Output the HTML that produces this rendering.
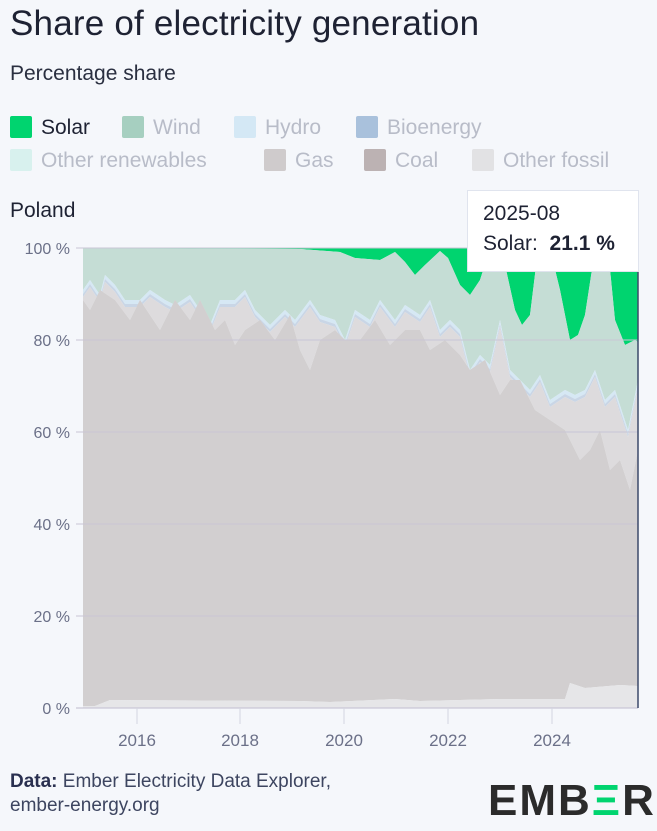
<!DOCTYPE html>
<html><head><meta charset="utf-8"><style>
body{margin:0;width:657px;height:831px;background:#f5f7fb;font-family:"Liberation Sans",sans-serif;color:#1e2233;position:relative;overflow:hidden}
.a{position:absolute;white-space:nowrap}
.sq{display:inline-block;width:22px;height:22px;vertical-align:-4px;margin-right:9px;border-radius:2px}
.lg{font-size:21px;color:#b8bcc8}
</style></head><body>
<div class="a" style="left:10px;top:4px;font-size:35px;font-weight:500;letter-spacing:0.2px">Share of electricity generation</div>
<div class="a" style="left:10px;top:62px;font-size:21px;color:#2a2f40">Percentage share</div>
<div class="a lg" style="left:10px;top:116px"><span class="sq" style="background:#00d46f"></span><span style="color:#1e2233">Solar</span></div>
<div class="a lg" style="left:122px;top:116px"><span class="sq" style="background:#a6cfc0"></span>Wind</div>
<div class="a lg" style="left:234px;top:116px"><span class="sq" style="background:#d4e8f5"></span>Hydro</div>
<div class="a lg" style="left:356px;top:116px"><span class="sq" style="background:#a9c1dc"></span>Bioenergy</div>
<div class="a lg" style="left:10px;top:149px"><span class="sq" style="background:#d8f1ee"></span>Other renewables</div>
<div class="a lg" style="left:264px;top:149px"><span class="sq" style="background:#cfcbcc"></span>Gas</div>
<div class="a lg" style="left:364px;top:149px"><span class="sq" style="background:#bcb2b3"></span>Coal</div>
<div class="a lg" style="left:472px;top:149px"><span class="sq" style="background:#e2e2e4"></span>Other fossil</div>
<div class="a" style="left:10px;top:199px;font-size:21px;font-weight:500">Poland</div>
<svg class="a" style="left:0;top:0" width="657" height="831" id="s"></svg>
<div class="a" style="left:467px;top:190px;width:170px;height:80px;background:#fff;border:1px solid #e0e4ee"></div>
<div class="a" style="left:483px;top:202px;font-size:21px">2025-08</div>
<div class="a" style="left:483px;top:232px;font-size:21px">Solar:&nbsp; <b>21.1 %</b></div>
<div class="a" style="left:10px;top:770px;font-size:19px;color:#3d4560;line-height:24px"><b style="font-weight:600;color:#2a3050">Data:</b> Ember Electricity Data Explorer,<br>ember-energy.org</div>
<div class="a" style="left:488px;top:776px;font-size:44px;font-weight:bold;color:#2b2b2b;letter-spacing:2px">EMB<span style="color:#00d46f">Ξ</span>R</div>
<script>
const s=document.getElementById('s');let h='';
const L=83,R=638,T=248,B=708;
const solarB=[[83,248],[300,249],[340,252],[355,258],[380,260],[395,252],[405,262],[415,275],[425,265],[440,251],[448,258],[460,285],[470,295],[480,280],[490,249],[500,249],[505,265],[515,310],[522,325],[530,315],[538,250],[550,249],[560,290],[570,340],[578,335],[585,315],[595,250],[608,249],[615,320],[625,345],[635,340],[638,342]];
const blue=[[83,290],[90,280],[100,295],[105,275],[115,285],[125,300],[140,300],[150,290],[165,300],[175,305],[190,295],[200,310],[210,325],[220,300],[235,300],[245,290],[255,310],[270,325],[285,310],[295,320],[310,300],[320,315],[335,320],[345,340],[355,310],[370,320],[380,300],[395,320],[405,305],[420,315],[430,300],[440,330],[450,320],[460,330],[470,370],[480,355],[490,365],[500,320],[510,370],[520,380],[530,390],[540,375],[550,400],[565,390],[575,395],[585,390],[595,370],[605,400],[615,390],[628,430],[638,380]];
const coal=[[83,300],[90,310],[100,290],[115,300],[130,320],[140,300],[160,330],[175,300],[190,320],[200,300],[215,330],[225,320],[235,345],[245,330],[260,320],[275,340],[290,315],[300,350],[310,370],[320,340],[335,330],[345,340],[360,340],[375,320],[390,345],[405,330],[420,330],[430,350],[445,340],[460,355],[470,370],[485,360],[500,395],[510,380],[520,380],[535,410],[550,420],[565,430],[580,460],[590,450],[600,430],[610,470],[620,460],[630,490],[638,450]];
const of=[[83,706],[95,706],[110,700],[300,701],[330,702],[395,699],[420,701],[500,699],[565,699],[570,683],[585,688],[620,685],[638,686]];
const off=(a,d)=>a.map(p=>[p[0],p[1]+d]);
function area(top,bot,c){let d='M'+top.map(p=>p.join(',')).join('L')+'L'+bot.slice().reverse().map(p=>p.join(',')).join('L')+'Z';h+=`<path d="${d}" fill="${c}"/>`}
const base=[[L,B],[R,B]],topL=[[L,T],[R,T]];
area(topL,solarB,'#00d46f');
area(solarB,blue,'#c5ddd5');
area(blue,off(blue,4),'#d6e8f4');
area(off(blue,4),off(blue,7),'#c9d6e6');
area(off(blue,7),coal,'#dddbdd');
area(coal,of,'#d2cfd0');
area(of,base,'#e6e6e8');
for(let i=0;i<=5;i++){let y=B-i*92;h+=`<line x1="76" x2="${R}" y1="${y}" y2="${y}" stroke="#c9c7d6" stroke-width="1.2" opacity="${i==0?1:.8}"/>`;h+=`<text x="70" y="${y+6}" text-anchor="end" font-size="16" fill="#6b7088" font-family="Liberation Sans">${i*20} %</text>`}
[[137,2016],[240,2018],[344,2020],[448,2022],[552,2024]].forEach(([x,t])=>{h+=`<line x1="${x}" x2="${x}" y1="${B}" y2="${B+16}" stroke="#d4d6e0"/><text x="${x}" y="${B+38}" text-anchor="middle" font-size="17" fill="#6b7088" font-family="Liberation Sans">${t}</text>`});
h+=`<line x1="${R}" x2="${R}" y1="${T}" y2="${B}" stroke="#3d4a6b" stroke-width="1.5"/>`;
s.innerHTML=h;
</script>
</body></html>
